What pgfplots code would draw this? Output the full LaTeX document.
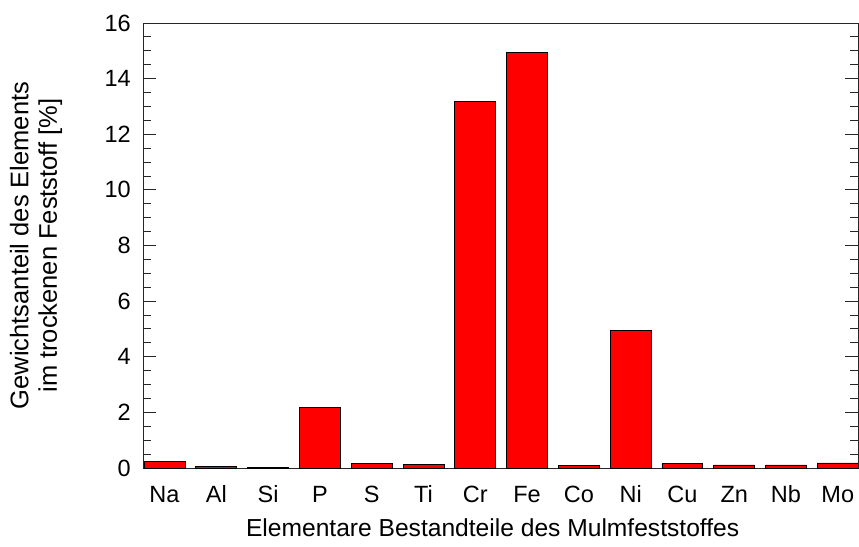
\documentclass[border=0pt]{standalone}
\usepackage{pgfplots}
\pgfplotsset{compat=1.18}
\usepackage{fontspec}
\setmainfont{Liberation Sans}
\begin{document}
\begin{tikzpicture}
\path[use as bounding box] (-143pt,-78pt) rectangle (716pt,468pt);
\begin{axis}[
  at={(0pt,0pt)}, anchor=south west,
  scale only axis, width=715pt, height=445pt,
  xmin=-0.415, xmax=13.39, ymin=0, ymax=16,
  ybar, bar width=0.79,
  axis line style={black!85, line width=0.9pt},
  xtick={0,...,13},
  xticklabels={Na,Al,Si,P,S,Ti,Cr,Fe,Co,Ni,Cu,Zn,Nb,Mo},
  xtick style={draw=none},
  ytick={0,2,...,16}, minor y tick num=3,
  ytick pos=both,
  tick align=inside,
  major tick length=13pt, minor tick length=8pt,
  every tick/.style={black!85, line width=0.9pt},
  /pgf/number format/assume math mode=true,
  ticklabel style={font=\fontsize{23.5}{27}\selectfont},
  yticklabel style={anchor=east, inner sep=0pt, xshift=-12pt},
  xticklabel style={anchor=base, inner sep=0pt, yshift=-34pt},
  xlabel={Elementare Bestandteile des Mulmfeststoffes},
  xlabel style={font=\fontsize{24.6}{29}\selectfont, at={(axis description cs:0.489,-0.155)}, anchor=base, inner sep=0pt},
  ylabel={Gewichtsanteil des Elements\\im trockenen Feststoff [\%]},
  ylabel style={font=\fontsize{25.5}{28.5}\selectfont, align=center, at={(axis description cs:-0.1497,0.5)}, anchor=center, rotate=0, inner sep=0pt},
]
\addplot[fill=red, draw=black, line width=0.8pt] coordinates {
  (0,0.23) (1,0.05) (2,0.02) (3,2.18) (4,0.15) (5,0.13) (6,13.17)
  (7,14.93) (8,0.08) (9,4.96) (10,0.15) (11,0.11) (12,0.11) (13,0.18)
};
\end{axis}
\end{tikzpicture}
\end{document}
